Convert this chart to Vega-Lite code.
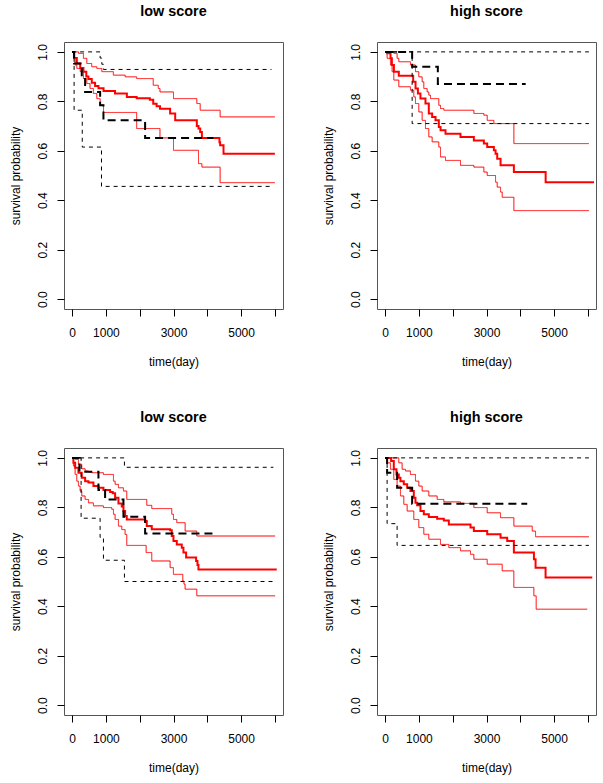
{
"$schema": "https://vega.github.io/schema/vega-lite/v6.json",
"padding": {"left": 8, "top": 3, "right": 5, "bottom": 5},
"bounds": "flush",
"columns": 2,
"spacing": {"row": 139, "column": 94},
"datasets": {
"km": [
{"p":"TL","g":"km","t":0,"s":1},{"p":"TL","g":"km","t":60,"s":0.975},{"p":"TL","g":"km","t":140,"s":0.953},{"p":"TL","g":"km","t":240,"s":0.935},{"p":"TL","g":"km","t":335,"s":0.92},{"p":"TL","g":"km","t":420,"s":0.9},{"p":"TL","g":"km","t":483,"s":0.89},{"p":"TL","g":"km","t":582,"s":0.875},{"p":"TL","g":"km","t":680,"s":0.862},{"p":"TL","g":"km","t":780,"s":0.853},{"p":"TL","g":"km","t":930,"s":0.842},{"p":"TL","g":"km","t":1270,"s":0.832},{"p":"TL","g":"km","t":1620,"s":0.818},{"p":"TL","g":"km","t":1910,"s":0.812},{"p":"TL","g":"km","t":2300,"s":0.806},{"p":"TL","g":"km","t":2400,"s":0.79},{"p":"TL","g":"km","t":2500,"s":0.78},{"p":"TL","g":"km","t":2600,"s":0.77},{"p":"TL","g":"km","t":2900,"s":0.751},{"p":"TL","g":"km","t":3050,"s":0.723},{"p":"TL","g":"km","t":3690,"s":0.7},{"p":"TL","g":"km","t":3740,"s":0.69},{"p":"TL","g":"km","t":3790,"s":0.676},{"p":"TL","g":"km","t":3840,"s":0.652},{"p":"TL","g":"km","t":4360,"s":0.635},{"p":"TL","g":"km","t":4380,"s":0.622},{"p":"TL","g":"km","t":4480,"s":0.588},{"p":"TL","g":"km","t":6000,"s":0.588},
{"p":"TL","g":"up","t":0,"s":1},{"p":"TL","g":"up","t":190,"s":0.994},{"p":"TL","g":"up","t":335,"s":0.974},{"p":"TL","g":"up","t":435,"s":0.953},{"p":"TL","g":"up","t":580,"s":0.94},{"p":"TL","g":"up","t":730,"s":0.933},{"p":"TL","g":"up","t":880,"s":0.92},{"p":"TL","g":"up","t":1220,"s":0.906},{"p":"TL","g":"up","t":1570,"s":0.899},{"p":"TL","g":"up","t":1910,"s":0.892},{"p":"TL","g":"up","t":2400,"s":0.865},{"p":"TL","g":"up","t":2550,"s":0.852},{"p":"TL","g":"up","t":2600,"s":0.838},{"p":"TL","g":"up","t":3000,"s":0.811},{"p":"TL","g":"up","t":3690,"s":0.791},{"p":"TL","g":"up","t":3790,"s":0.764},{"p":"TL","g":"up","t":4380,"s":0.737},{"p":"TL","g":"up","t":6000,"s":0.737},
{"p":"TL","g":"lo","t":0,"s":1},{"p":"TL","g":"lo","t":40,"s":0.974},{"p":"TL","g":"lo","t":90,"s":0.947},{"p":"TL","g":"lo","t":140,"s":0.933},{"p":"TL","g":"lo","t":240,"s":0.92},{"p":"TL","g":"lo","t":335,"s":0.892},{"p":"TL","g":"lo","t":435,"s":0.872},{"p":"TL","g":"lo","t":530,"s":0.852},{"p":"TL","g":"lo","t":630,"s":0.832},{"p":"TL","g":"lo","t":730,"s":0.811},{"p":"TL","g":"lo","t":830,"s":0.785},{"p":"TL","g":"lo","t":930,"s":0.755},{"p":"TL","g":"lo","t":1910,"s":0.69},{"p":"TL","g":"lo","t":2600,"s":0.652},{"p":"TL","g":"lo","t":3000,"s":0.602},{"p":"TL","g":"lo","t":3740,"s":0.548},{"p":"TL","g":"lo","t":3840,"s":0.534},{"p":"TL","g":"lo","t":4380,"s":0.471},{"p":"TL","g":"lo","t":6000,"s":0.471},
{"p":"TL","g":"bkm","t":0,"s":1},{"p":"TL","g":"bkm","t":59,"s":0.953},{"p":"TL","g":"bkm","t":286,"s":0.895},{"p":"TL","g":"bkm","t":385,"s":0.838},{"p":"TL","g":"bkm","t":829,"s":0.784},{"p":"TL","g":"bkm","t":927,"s":0.723},{"p":"TL","g":"bkm","t":2160,"s":0.652},{"p":"TL","g":"bkm","t":4180,"s":0.652},
{"p":"TL","g":"bup","t":0,"s":1},{"p":"TL","g":"bup","t":829,"s":0.975},{"p":"TL","g":"bup","t":880,"s":0.95},{"p":"TL","g":"bup","t":927,"s":0.929},{"p":"TL","g":"bup","t":5900,"s":0.929},
{"p":"TL","g":"blo","t":0,"s":1},{"p":"TL","g":"blo","t":59,"s":0.764},{"p":"TL","g":"blo","t":300,"s":0.615},{"p":"TL","g":"blo","t":870,"s":0.456},{"p":"TL","g":"blo","t":5950,"s":0.456},

{"p":"TR","g":"km","t":0,"s":1},{"p":"TR","g":"km","t":60,"s":0.994},{"p":"TR","g":"km","t":160,"s":0.974},{"p":"TR","g":"km","t":200,"s":0.947},{"p":"TR","g":"km","t":260,"s":0.92},{"p":"TR","g":"km","t":405,"s":0.903},{"p":"TR","g":"km","t":830,"s":0.879},{"p":"TR","g":"km","t":900,"s":0.852},{"p":"TR","g":"km","t":970,"s":0.832},{"p":"TR","g":"km","t":1046,"s":0.811},{"p":"TR","g":"km","t":1194,"s":0.791},{"p":"TR","g":"km","t":1293,"s":0.751},{"p":"TR","g":"km","t":1392,"s":0.737},{"p":"TR","g":"km","t":1491,"s":0.723},{"p":"TR","g":"km","t":1589,"s":0.696},{"p":"TR","g":"km","t":1640,"s":0.683},{"p":"TR","g":"km","t":1787,"s":0.669},{"p":"TR","g":"km","t":2230,"s":0.656},{"p":"TR","g":"km","t":2626,"s":0.642},{"p":"TR","g":"km","t":2922,"s":0.629},{"p":"TR","g":"km","t":3021,"s":0.615},{"p":"TR","g":"km","t":3218,"s":0.602},{"p":"TR","g":"km","t":3268,"s":0.588},{"p":"TR","g":"km","t":3317,"s":0.568},{"p":"TR","g":"km","t":3416,"s":0.541},{"p":"TR","g":"km","t":3810,"s":0.514},{"p":"TR","g":"km","t":4750,"s":0.473},{"p":"TR","g":"km","t":6180,"s":0.473},
{"p":"TR","g":"up","t":0,"s":1},{"p":"TR","g":"up","t":257,"s":0.994},{"p":"TR","g":"up","t":355,"s":0.974},{"p":"TR","g":"up","t":405,"s":0.96},{"p":"TR","g":"up","t":750,"s":0.947},{"p":"TR","g":"up","t":898,"s":0.92},{"p":"TR","g":"up","t":997,"s":0.899},{"p":"TR","g":"up","t":1096,"s":0.879},{"p":"TR","g":"up","t":1145,"s":0.852},{"p":"TR","g":"up","t":1244,"s":0.838},{"p":"TR","g":"up","t":1293,"s":0.825},{"p":"TR","g":"up","t":1343,"s":0.811},{"p":"TR","g":"up","t":1589,"s":0.784},{"p":"TR","g":"up","t":1639,"s":0.771},{"p":"TR","g":"up","t":1737,"s":0.764},{"p":"TR","g":"up","t":2626,"s":0.751},{"p":"TR","g":"up","t":2922,"s":0.744},{"p":"TR","g":"up","t":3021,"s":0.723},{"p":"TR","g":"up","t":3218,"s":0.71},{"p":"TR","g":"up","t":3810,"s":0.629},{"p":"TR","g":"up","t":6030,"s":0.629},
{"p":"TR","g":"lo","t":0,"s":1},{"p":"TR","g":"lo","t":60,"s":0.974},{"p":"TR","g":"lo","t":158,"s":0.947},{"p":"TR","g":"lo","t":207,"s":0.92},{"p":"TR","g":"lo","t":257,"s":0.886},{"p":"TR","g":"lo","t":405,"s":0.859},{"p":"TR","g":"lo","t":750,"s":0.845},{"p":"TR","g":"lo","t":849,"s":0.818},{"p":"TR","g":"lo","t":898,"s":0.791},{"p":"TR","g":"lo","t":997,"s":0.757},{"p":"TR","g":"lo","t":1096,"s":0.723},{"p":"TR","g":"lo","t":1194,"s":0.69},{"p":"TR","g":"lo","t":1293,"s":0.656},{"p":"TR","g":"lo","t":1392,"s":0.636},{"p":"TR","g":"lo","t":1589,"s":0.615},{"p":"TR","g":"lo","t":1639,"s":0.575},{"p":"TR","g":"lo","t":1787,"s":0.561},{"p":"TR","g":"lo","t":2231,"s":0.541},{"p":"TR","g":"lo","t":2626,"s":0.534},{"p":"TR","g":"lo","t":2922,"s":0.514},{"p":"TR","g":"lo","t":3021,"s":0.5},{"p":"TR","g":"lo","t":3268,"s":0.473},{"p":"TR","g":"lo","t":3317,"s":0.453},{"p":"TR","g":"lo","t":3416,"s":0.433},{"p":"TR","g":"lo","t":3465,"s":0.412},{"p":"TR","g":"lo","t":3810,"s":0.358},{"p":"TR","g":"lo","t":6030,"s":0.358},
{"p":"TR","g":"bkm","t":0,"s":1},{"p":"TR","g":"bkm","t":800,"s":0.94},{"p":"TR","g":"bkm","t":1560,"s":0.87},{"p":"TR","g":"bkm","t":4160,"s":0.87},
{"p":"TR","g":"bup","t":0,"s":1},{"p":"TR","g":"bup","t":6030,"s":1},
{"p":"TR","g":"blo","t":0,"s":1},{"p":"TR","g":"blo","t":800,"s":0.71},{"p":"TR","g":"blo","t":6030,"s":0.71},

{"p":"BL","g":"km","t":0,"s":1},{"p":"BL","g":"km","t":39,"s":0.98},{"p":"BL","g":"km","t":89,"s":0.96},{"p":"BL","g":"km","t":187,"s":0.94},{"p":"BL","g":"km","t":286,"s":0.92},{"p":"BL","g":"km","t":385,"s":0.906},{"p":"BL","g":"km","t":483,"s":0.9},{"p":"BL","g":"km","t":631,"s":0.886},{"p":"BL","g":"km","t":779,"s":0.879},{"p":"BL","g":"km","t":927,"s":0.87},{"p":"BL","g":"km","t":1124,"s":0.862},{"p":"BL","g":"km","t":1203,"s":0.857},{"p":"BL","g":"km","t":1272,"s":0.839},{"p":"BL","g":"km","t":1371,"s":0.816},{"p":"BL","g":"km","t":1470,"s":0.803},{"p":"BL","g":"km","t":1519,"s":0.785},{"p":"BL","g":"km","t":1568,"s":0.765},{"p":"BL","g":"km","t":1617,"s":0.751},{"p":"BL","g":"km","t":2160,"s":0.745},{"p":"BL","g":"km","t":2209,"s":0.724},{"p":"BL","g":"km","t":2357,"s":0.711},{"p":"BL","g":"km","t":2900,"s":0.707},{"p":"BL","g":"km","t":2949,"s":0.684},{"p":"BL","g":"km","t":2999,"s":0.664},{"p":"BL","g":"km","t":3097,"s":0.65},{"p":"BL","g":"km","t":3245,"s":0.637},{"p":"BL","g":"km","t":3294,"s":0.617},{"p":"BL","g":"km","t":3373,"s":0.597},{"p":"BL","g":"km","t":3669,"s":0.583},{"p":"BL","g":"km","t":3709,"s":0.567},{"p":"BL","g":"km","t":3738,"s":0.549},{"p":"BL","g":"km","t":6056,"s":0.549},
{"p":"BL","g":"up","t":0,"s":1},{"p":"BL","g":"up","t":89,"s":0.994},{"p":"BL","g":"up","t":187,"s":0.974},{"p":"BL","g":"up","t":286,"s":0.956},{"p":"BL","g":"up","t":385,"s":0.947},{"p":"BL","g":"up","t":483,"s":0.943},{"p":"BL","g":"up","t":582,"s":0.94},{"p":"BL","g":"up","t":927,"s":0.933},{"p":"BL","g":"up","t":1223,"s":0.906},{"p":"BL","g":"up","t":1272,"s":0.893},{"p":"BL","g":"up","t":1371,"s":0.879},{"p":"BL","g":"up","t":1519,"s":0.866},{"p":"BL","g":"up","t":1617,"s":0.832},{"p":"BL","g":"up","t":2209,"s":0.808},{"p":"BL","g":"up","t":2357,"s":0.795},{"p":"BL","g":"up","t":2949,"s":0.772},{"p":"BL","g":"up","t":2999,"s":0.751},{"p":"BL","g":"up","t":3097,"s":0.738},{"p":"BL","g":"up","t":3344,"s":0.704},{"p":"BL","g":"up","t":3689,"s":0.684},{"p":"BL","g":"up","t":6007,"s":0.684},
{"p":"BL","g":"lo","t":0,"s":1},{"p":"BL","g":"lo","t":39,"s":0.967},{"p":"BL","g":"lo","t":89,"s":0.933},{"p":"BL","g":"lo","t":138,"s":0.906},{"p":"BL","g":"lo","t":187,"s":0.886},{"p":"BL","g":"lo","t":237,"s":0.866},{"p":"BL","g":"lo","t":286,"s":0.846},{"p":"BL","g":"lo","t":385,"s":0.832},{"p":"BL","g":"lo","t":483,"s":0.818},{"p":"BL","g":"lo","t":631,"s":0.806},{"p":"BL","g":"lo","t":927,"s":0.799},{"p":"BL","g":"lo","t":1174,"s":0.792},{"p":"BL","g":"lo","t":1223,"s":0.772},{"p":"BL","g":"lo","t":1272,"s":0.751},{"p":"BL","g":"lo","t":1371,"s":0.724},{"p":"BL","g":"lo","t":1470,"s":0.71},{"p":"BL","g":"lo","t":1568,"s":0.69},{"p":"BL","g":"lo","t":1617,"s":0.646},{"p":"BL","g":"lo","t":2190,"s":0.617},{"p":"BL","g":"lo","t":2357,"s":0.583},{"p":"BL","g":"lo","t":2900,"s":0.556},{"p":"BL","g":"lo","t":2997,"s":0.529},{"p":"BL","g":"lo","t":3275,"s":0.502},{"p":"BL","g":"lo","t":3310,"s":0.489},{"p":"BL","g":"lo","t":3343,"s":0.469},{"p":"BL","g":"lo","t":3689,"s":0.442},{"p":"BL","g":"lo","t":6007,"s":0.442},
{"p":"BL","g":"bkm","t":0,"s":1},{"p":"BL","g":"bkm","t":217,"s":0.944},{"p":"BL","g":"bkm","t":779,"s":0.87},{"p":"BL","g":"bkm","t":976,"s":0.832},{"p":"BL","g":"bkm","t":1519,"s":0.762},{"p":"BL","g":"bkm","t":2160,"s":0.694},{"p":"BL","g":"bkm","t":4230,"s":0.694},
{"p":"BL","g":"bup","t":0,"s":1},{"p":"BL","g":"bup","t":1548,"s":0.962},{"p":"BL","g":"bup","t":5956,"s":0.962},
{"p":"BL","g":"blo","t":0,"s":1},{"p":"BL","g":"blo","t":266,"s":0.756},{"p":"BL","g":"blo","t":828,"s":0.678},{"p":"BL","g":"blo","t":927,"s":0.586},{"p":"BL","g":"blo","t":1548,"s":0.5},{"p":"BL","g":"blo","t":5956,"s":0.5},

{"p":"BR","g":"km","t":0,"s":1},{"p":"BR","g":"km","t":178,"s":0.987},{"p":"BR","g":"km","t":257,"s":0.954},{"p":"BR","g":"km","t":336,"s":0.933},{"p":"BR","g":"km","t":405,"s":0.92},{"p":"BR","g":"km","t":454,"s":0.906},{"p":"BR","g":"km","t":553,"s":0.893},{"p":"BR","g":"km","t":652,"s":0.879},{"p":"BR","g":"km","t":750,"s":0.866},{"p":"BR","g":"km","t":849,"s":0.839},{"p":"BR","g":"km","t":898,"s":0.819},{"p":"BR","g":"km","t":948,"s":0.808},{"p":"BR","g":"km","t":1046,"s":0.785},{"p":"BR","g":"km","t":1145,"s":0.772},{"p":"BR","g":"km","t":1293,"s":0.761},{"p":"BR","g":"km","t":1540,"s":0.754},{"p":"BR","g":"km","t":1737,"s":0.747},{"p":"BR","g":"km","t":1885,"s":0.731},{"p":"BR","g":"km","t":2527,"s":0.718},{"p":"BR","g":"km","t":2626,"s":0.704},{"p":"BR","g":"km","t":3021,"s":0.691},{"p":"BR","g":"km","t":3416,"s":0.677},{"p":"BR","g":"km","t":3613,"s":0.664},{"p":"BR","g":"km","t":3810,"s":0.617},{"p":"BR","g":"km","t":4403,"s":0.59},{"p":"BR","g":"km","t":4452,"s":0.556},{"p":"BR","g":"km","t":4748,"s":0.516},{"p":"BR","g":"km","t":6130,"s":0.516},
{"p":"BR","g":"up","t":0,"s":1},{"p":"BR","g":"up","t":405,"s":0.98},{"p":"BR","g":"up","t":503,"s":0.954},{"p":"BR","g":"up","t":602,"s":0.947},{"p":"BR","g":"up","t":750,"s":0.933},{"p":"BR","g":"up","t":898,"s":0.906},{"p":"BR","g":"up","t":997,"s":0.886},{"p":"BR","g":"up","t":1096,"s":0.866},{"p":"BR","g":"up","t":1293,"s":0.846},{"p":"BR","g":"up","t":1540,"s":0.832},{"p":"BR","g":"up","t":1737,"s":0.822},{"p":"BR","g":"up","t":2231,"s":0.816},{"p":"BR","g":"up","t":2626,"s":0.799},{"p":"BR","g":"up","t":3021,"s":0.778},{"p":"BR","g":"up","t":3416,"s":0.758},{"p":"BR","g":"up","t":3810,"s":0.724},{"p":"BR","g":"up","t":4353,"s":0.704},{"p":"BR","g":"up","t":4452,"s":0.681},{"p":"BR","g":"up","t":6032,"s":0.681},
{"p":"BR","g":"lo","t":0,"s":1},{"p":"BR","g":"lo","t":59,"s":0.98},{"p":"BR","g":"lo","t":158,"s":0.954},{"p":"BR","g":"lo","t":257,"s":0.913},{"p":"BR","g":"lo","t":355,"s":0.886},{"p":"BR","g":"lo","t":454,"s":0.846},{"p":"BR","g":"lo","t":553,"s":0.812},{"p":"BR","g":"lo","t":652,"s":0.785},{"p":"BR","g":"lo","t":849,"s":0.751},{"p":"BR","g":"lo","t":997,"s":0.718},{"p":"BR","g":"lo","t":1145,"s":0.691},{"p":"BR","g":"lo","t":1293,"s":0.671},{"p":"BR","g":"lo","t":1639,"s":0.65},{"p":"BR","g":"lo","t":1885,"s":0.637},{"p":"BR","g":"lo","t":2231,"s":0.624},{"p":"BR","g":"lo","t":2527,"s":0.61},{"p":"BR","g":"lo","t":2626,"s":0.59},{"p":"BR","g":"lo","t":3020,"s":0.57},{"p":"BR","g":"lo","t":3464,"s":0.543},{"p":"BR","g":"lo","t":3809,"s":0.476},{"p":"BR","g":"lo","t":4401,"s":0.442},{"p":"BR","g":"lo","t":4470,"s":0.388},{"p":"BR","g":"lo","t":5982,"s":0.388},
{"p":"BR","g":"bkm","t":0,"s":1},{"p":"BR","g":"bkm","t":59,"s":0.94},{"p":"BR","g":"bkm","t":355,"s":0.879},{"p":"BR","g":"bkm","t":800,"s":0.815},{"p":"BR","g":"bkm","t":4205,"s":0.815},
{"p":"BR","g":"bup","t":0,"s":1},{"p":"BR","g":"bup","t":6030,"s":1},
{"p":"BR","g":"blo","t":0,"s":1},{"p":"BR","g":"blo","t":59,"s":0.734},{"p":"BR","g":"blo","t":355,"s":0.646},{"p":"BR","g":"blo","t":6030,"s":0.646}
]
},
"data": {"name": "km"},
"concat": [
{"title": "low score", "width": 219, "height": 267,
 "transform": [{"filter": "datum.p == 'TL'"}],
 "mark": {"type": "line", "interpolate": "step-after", "clip": true},
 "encoding": {
  "x": {"field": "t", "type": "quantitative", "scale": {"domain": [-240, 6240], "nice": false, "zero": false}, "axis": {"title": "time(day)", "values": [0,1000,2000,3000,4000,5000,6000], "format": "d", "labelExpr": "datum.value == 2000 || datum.value == 4000 || datum.value == 6000 ? '' : datum.label"}},
  "y": {"field": "s", "type": "quantitative", "scale": {"domain": [-0.04, 1.04], "nice": false, "zero": false}, "axis": {"title": "survival probability", "values": [0,0.2,0.4,0.6,0.8,1], "format": ".1f"}},
  "color": {"field": "g", "type": "nominal", "scale": {"domain": ["km","up","lo","bkm","bup","blo"], "range": ["#ff0000","#ff0000","#ff0000","#000000","#000000","#000000"]}, "legend": null},
  "strokeWidth": {"field": "g", "type": "nominal", "scale": {"type": "ordinal", "domain": ["km","up","lo","bkm","bup","blo"], "range": [2,1,1,2,1,1]}, "legend": null},
  "strokeDash": {"field": "g", "type": "nominal", "scale": {"domain": ["km","up","lo","bkm","bup","blo"], "range": [[1,0],[1,0],[1,0],[8,5],[4,4],[4,4]]}, "legend": null}
 }},
{"title": "high score", "width": 219, "height": 267,
 "transform": [{"filter": "datum.p == 'TR'"}],
 "mark": {"type": "line", "interpolate": "step-after", "clip": true},
 "encoding": {
  "x": {"field": "t", "type": "quantitative", "scale": {"domain": [-240, 6240], "nice": false, "zero": false}, "axis": {"title": "time(day)", "values": [0,1000,2000,3000,4000,5000,6000], "format": "d", "labelExpr": "datum.value == 2000 || datum.value == 4000 || datum.value == 6000 ? '' : datum.label"}},
  "y": {"field": "s", "type": "quantitative", "scale": {"domain": [-0.04, 1.04], "nice": false, "zero": false}, "axis": {"title": "survival probability", "values": [0,0.2,0.4,0.6,0.8,1], "format": ".1f"}},
  "color": {"field": "g", "type": "nominal", "scale": {"domain": ["km","up","lo","bkm","bup","blo"], "range": ["#ff0000","#ff0000","#ff0000","#000000","#000000","#000000"]}, "legend": null},
  "strokeWidth": {"field": "g", "type": "nominal", "scale": {"type": "ordinal", "domain": ["km","up","lo","bkm","bup","blo"], "range": [2,1,1,2,1,1]}, "legend": null},
  "strokeDash": {"field": "g", "type": "nominal", "scale": {"domain": ["km","up","lo","bkm","bup","blo"], "range": [[1,0],[1,0],[1,0],[8,5],[4,4],[4,4]]}, "legend": null}
 }},
{"title": "low score", "width": 219, "height": 267,
 "transform": [{"filter": "datum.p == 'BL'"}],
 "mark": {"type": "line", "interpolate": "step-after", "clip": true},
 "encoding": {
  "x": {"field": "t", "type": "quantitative", "scale": {"domain": [-240, 6240], "nice": false, "zero": false}, "axis": {"title": "time(day)", "values": [0,1000,2000,3000,4000,5000,6000], "format": "d", "labelExpr": "datum.value == 2000 || datum.value == 4000 || datum.value == 6000 ? '' : datum.label"}},
  "y": {"field": "s", "type": "quantitative", "scale": {"domain": [-0.04, 1.04], "nice": false, "zero": false}, "axis": {"title": "survival probability", "values": [0,0.2,0.4,0.6,0.8,1], "format": ".1f"}},
  "color": {"field": "g", "type": "nominal", "scale": {"domain": ["km","up","lo","bkm","bup","blo"], "range": ["#ff0000","#ff0000","#ff0000","#000000","#000000","#000000"]}, "legend": null},
  "strokeWidth": {"field": "g", "type": "nominal", "scale": {"type": "ordinal", "domain": ["km","up","lo","bkm","bup","blo"], "range": [2,1,1,2,1,1]}, "legend": null},
  "strokeDash": {"field": "g", "type": "nominal", "scale": {"domain": ["km","up","lo","bkm","bup","blo"], "range": [[1,0],[1,0],[1,0],[8,5],[4,4],[4,4]]}, "legend": null}
 }},
{"title": "high score", "width": 219, "height": 267,
 "transform": [{"filter": "datum.p == 'BR'"}],
 "mark": {"type": "line", "interpolate": "step-after", "clip": true},
 "encoding": {
  "x": {"field": "t", "type": "quantitative", "scale": {"domain": [-240, 6240], "nice": false, "zero": false}, "axis": {"title": "time(day)", "values": [0,1000,2000,3000,4000,5000,6000], "format": "d", "labelExpr": "datum.value == 2000 || datum.value == 4000 || datum.value == 6000 ? '' : datum.label"}},
  "y": {"field": "s", "type": "quantitative", "scale": {"domain": [-0.04, 1.04], "nice": false, "zero": false}, "axis": {"title": "survival probability", "values": [0,0.2,0.4,0.6,0.8,1], "format": ".1f"}},
  "color": {"field": "g", "type": "nominal", "scale": {"domain": ["km","up","lo","bkm","bup","blo"], "range": ["#ff0000","#ff0000","#ff0000","#000000","#000000","#000000"]}, "legend": null},
  "strokeWidth": {"field": "g", "type": "nominal", "scale": {"type": "ordinal", "domain": ["km","up","lo","bkm","bup","blo"], "range": [2,1,1,2,1,1]}, "legend": null},
  "strokeDash": {"field": "g", "type": "nominal", "scale": {"domain": ["km","up","lo","bkm","bup","blo"], "range": [[1,0],[1,0],[1,0],[8,5],[4,4],[4,4]]}, "legend": null}
 }}
],
"resolve": {"scale": {"color": "independent", "strokeWidth": "independent", "strokeDash": "independent"}},
"config": {
 "background": "white",
 "font": "Liberation Sans",
 "view": {"stroke": "#555555", "strokeWidth": 1},
 "title": {"font": "Liberation Sans", "fontSize": 14.4, "fontWeight": "bold", "color": "#000000", "anchor": "middle", "baseline": "alphabetic", "offset": 23},
 "axis": {"grid": false, "domain": false, "tickSize": 7, "tickColor": "#000000", "labelColor": "#000000", "titleColor": "#000000", "labelFont": "Liberation Sans", "titleFont": "Liberation Sans", "labelFontSize": 12, "titleFontSize": 12, "titleFontWeight": "normal", "labelOverlap": false, "labelFlush": false},
 "axisX": {"labelPadding": 11, "labelBaseline": "top", "titlePadding": 18},
 "axisY": {"labelAngle": -90, "labelAlign": "center", "labelBaseline": "alphabetic", "labelPadding": 11, "titlePadding": 14}
}
}
